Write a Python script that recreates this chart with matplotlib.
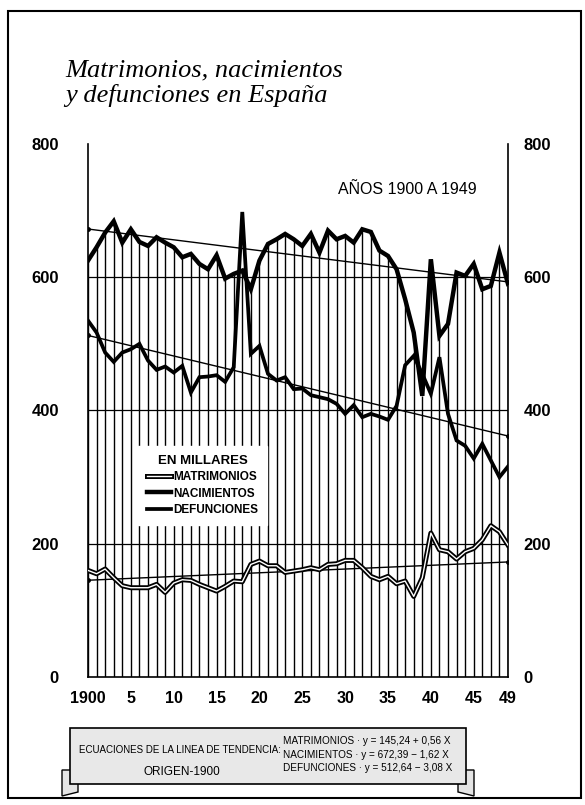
import numpy as np
import matplotlib.pyplot as plt
import matplotlib.patheffects as pe
from matplotlib.lines import Line2D
from matplotlib.patches import Rectangle, Polygon

# Data (thousands)
years = list(range(1900, 1950))
nacimientos = [625, 645, 667, 684, 652, 672, 653, 647, 660, 652,
               645, 630, 635, 620, 612, 633, 598, 605, 610, 582,
               625, 650, 657, 665, 657, 647, 665, 637, 670, 657,
               662, 652, 672, 668, 640, 632, 612, 567, 517, 422,
               627, 512, 530, 607, 602, 620, 582, 587, 637, 590]
defunciones = [535, 517, 487, 473, 487, 492, 500, 475, 461, 466,
               457, 467, 427, 450, 451, 453, 443, 465, 698, 485,
               497, 455, 445, 450, 432, 433, 423, 420, 417, 410,
               395, 408, 390, 395, 391, 386, 407, 468, 482, 455,
               425, 480, 395, 355, 347, 328, 350, 325, 300, 316]
matrimonios = [160, 155, 162, 149, 137, 134, 134, 134, 139, 127,
               141, 146, 145, 139, 134, 129, 136, 144, 143, 169,
               174, 167, 167, 157, 159, 161, 164, 161, 169, 170,
               175, 175, 164, 151, 146, 151, 140, 144, 121, 149,
               216, 191, 188, 177, 188, 193, 206, 227, 218, 198]

# trend line equations printed on the chart (origin 1900)
trend_matrimonios = (145.24, 0.56)
trend_nacimientos = (672.39, -1.62)
trend_defunciones = (512.64, -3.08)

yticks = [0, 200, 400, 600, 800]
ytick_labels = ['0', '200', '400', '600', '800']
xticks = [1900, 1905, 1910, 1915, 1920, 1925, 1930, 1935, 1940, 1945, 1949]
xtick_labels = ['1900', '5', '10', '15', '20', '25', '30', '35', '40', '45', '49']

narrow = ['Liberation Sans Narrow', 'Liberation Sans', 'DejaVu Sans']

fig = plt.figure(figsize=(5.85, 8.05), dpi=100)
ax = fig.add_axes([88 / 585, 128 / 805, 420 / 585, 533 / 805])
ax.set_xlim(1900, 1949)
ax.set_ylim(0, 800)

# yearly vertical lines up to the births curve
ax.vlines(years, 0, nacimientos, color='black', lw=1.0, zorder=1)
for v in [200, 400, 600]:
    ax.axhline(v, color='black', lw=0.9, zorder=1)

# trend lines
x0, x1 = years[0], years[-1]
for a, b in [trend_matrimonios, trend_nacimientos, trend_defunciones]:
    ax.plot([x0, x1], [a, a + b * (x1 - x0)], color='black', lw=1.0,
            marker='o', markersize=2.5, zorder=2)

ax.plot(years, nacimientos, color='black', lw=3.2, zorder=4,
        solid_joinstyle='miter')
ax.plot(years, defunciones, color='black', lw=2.7, zorder=4,
        solid_joinstyle='miter')
ax.plot(years, matrimonios, color='white', lw=1.0, zorder=4,
        path_effects=[pe.Stroke(linewidth=3.6, foreground='black'), pe.Normal()])

for s in ['left', 'right', 'bottom']:
    ax.spines[s].set_linewidth(1.2)
ax.spines['top'].set_visible(False)

ax.set_yticks(yticks)
ax.set_yticklabels(ytick_labels, fontweight='bold', fontsize=12, family=narrow)
ax.tick_params(axis='y', length=0, pad=21)
ax.set_xticks(xticks)
ax.set_xticklabels(xtick_labels, fontweight='bold', fontsize=11.5, family=narrow)
ax.tick_params(axis='x', length=0, pad=10)

ax2 = ax.twinx()
ax2.set_ylim(0, 800)
ax2.set_yticks(yticks)
ax2.set_yticklabels(ytick_labels, fontweight='bold', fontsize=12, family=narrow)
ax2.tick_params(axis='y', length=0, pad=11)
for s in ax2.spines.values():
    s.set_visible(False)

ax.text(0.76, 0.915, 'AÑOS 1900 A 1949', transform=ax.transAxes, ha='center',
        va='center', fontsize=11.5, family=narrow)

handles = [
    Line2D([], [], color='white', lw=1.0,
           path_effects=[pe.Stroke(linewidth=3.6, foreground='black'), pe.Normal()]),
    Line2D([], [], color='black', lw=3.2),
    Line2D([], [], color='black', lw=2.7),
]
leg = ax.legend(handles, ['MATRIMONIOS', 'NACIMIENTOS', 'DEFUNCIONES'],
                title='EN MILLARES', loc='lower left',
                bbox_to_anchor=(0.118, 0.285), borderaxespad=0,
                frameon=True, fancybox=False, framealpha=1,
                edgecolor='white', facecolor='white', borderpad=0.8,
                handlelength=2.0, handletextpad=0.2, labelspacing=0.35,
                prop={'family': narrow, 'weight': 'bold', 'size': 8.5})
leg.get_title().set_fontproperties({'family': narrow, 'weight': 'bold', 'size': 9.5})
leg.set_zorder(3)

# title
fig.text(65 / 585, 1 - 76 / 805, 'Matrimonios, nacimientos', fontsize=19,
         style='italic', family='Liberation Serif', va='baseline')
fig.text(65 / 585, 1 - 102 / 805, 'y defunciones en España', fontsize=19,
         style='italic', family='Liberation Serif', va='baseline')

# page frame
fig.patches.append(Rectangle((8 / 585, 7 / 805), 573 / 585, 787 / 805,
                             transform=fig.transFigure, fill=False,
                             lw=1.5, edgecolor='black'))

# ribbon with trend equations
fig.patches.append(Polygon([(62 / 585, 1 - 770 / 805), (78 / 585, 1 - 770 / 805),
                            (78 / 585, 1 - 792 / 805), (62 / 585, 1 - 796 / 805)],
                           closed=True, transform=fig.transFigure,
                           facecolor='#e4e4e4', edgecolor='black', lw=1))
fig.patches.append(Polygon([(458 / 585, 1 - 770 / 805), (474 / 585, 1 - 770 / 805),
                            (474 / 585, 1 - 796 / 805), (458 / 585, 1 - 792 / 805)],
                           closed=True, transform=fig.transFigure,
                           facecolor='#e4e4e4', edgecolor='black', lw=1))
fig.patches.append(Rectangle((70 / 585, 1 - 784 / 805), 396 / 585, 56 / 805,
                             transform=fig.transFigure, facecolor='#e8e8e8',
                             edgecolor='black', lw=1.2))

fig.text(79 / 585, 1 - 750 / 805, 'ECUACIONES DE LA LINEA DE TENDENCIA:',
         fontsize=7, family=narrow, va='center')
fig.text(182 / 585, 1 - 772 / 805, 'ORIGEN-1900', fontsize=8.5, family=narrow,
         va='center', ha='center')
eq_lines = ['MATRIMONIOS · y = 145,24 + 0,56 X',
            'NACIMIENTOS · y = 672,39 − 1,62 X',
            'DEFUNCIONES · y = 512,64 − 3,08 X']
for i, t in enumerate(eq_lines):
    fig.text(283 / 585, 1 - (741 + 13.5 * i) / 805, t, fontsize=7.2,
             family=narrow, va='center')

fig.savefig('out.png', dpi=100)
